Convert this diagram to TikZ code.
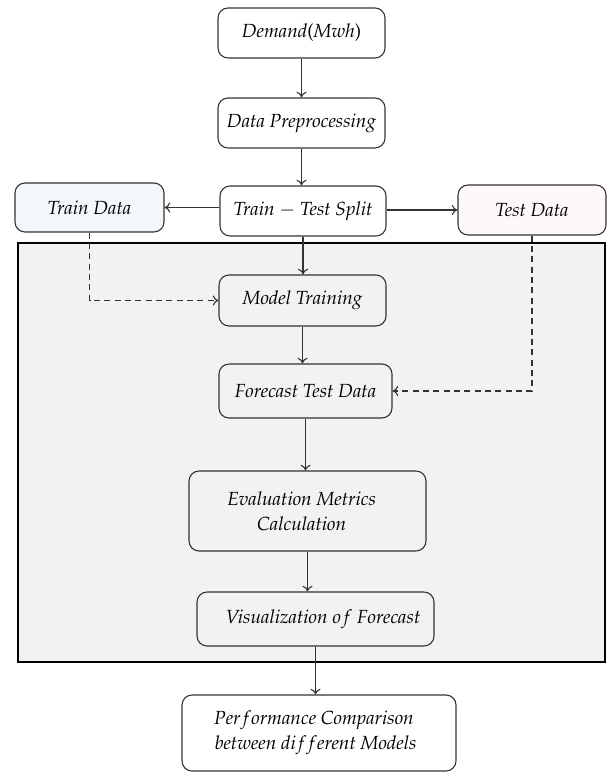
\documentclass[tikz,border=0pt]{standalone}
\usepackage[T1]{fontenc}
\usepackage{mathpazo}
\usetikzlibrary{calc,arrows.meta}
\definecolor{linegray}{HTML}{333333}
\definecolor{panelgray}{HTML}{F2F2F2}
\definecolor{trainfill}{HTML}{F4F8FD}
\definecolor{testfill}{HTML}{FEF8FC}
\tikzset{
  box/.style={draw=linegray, line width=0.65pt, rounded corners=6pt, fill=white,
    align=center, inner sep=0pt, font=\fontsize{11.4}{15}\selectfont\itshape},
  inbox/.style={box, fill=panelgray},
  flow/.style={draw=linegray, line width=0.65pt, -{To[length=3.4pt,width=6pt]}},
  dflow/.style={flow, dash pattern=on 3.6pt off 2.6pt},
}
\begin{document}
\begin{tikzpicture}[x=0.6pt, y=-0.6pt]
\useasboundingbox (0,0) rectangle (607,772);

% shaded panel holding the modelling stages
\draw[line width=0.65pt, draw=black, fill=panelgray] (18,243) rectangle (605,662);

\node[box, minimum width=100.2pt, minimum height=30pt] (dem) at (301.5,33) {Demand\textup{(}Mwh\textup{)}};
\node[box, minimum width=100.2pt, minimum height=30pt] (pre) at (301.5,123) {Data Preprocessing};
\node[box, minimum width=99.6pt, minimum height=30pt] (split) at (303,211) {Train $-$ Test Split};
\node[box, fill=trainfill, minimum width=89.4pt, minimum height=29.4pt] (train) at (89.5,207.5) {Train Data};
\node[box, fill=testfill, minimum width=88.8pt, minimum height=30pt] (test) at (532,210) {Test Data};

\node[inbox, minimum width=100.2pt, minimum height=30.6pt] (mt) at (302.5,300.5) {Model Training};
\node[inbox, minimum width=103.8pt, minimum height=32.4pt] (fc) at (305.5,391) {Forecast Test Data};
\node[inbox, minimum width=142.2pt, minimum height=48pt] (ev) at (307.5,511) {Evaluation Metrics\hspace*{7pt}\\Calculation\hspace*{7pt}};
\node[inbox, minimum width=142.2pt, minimum height=32.4pt] (vis) at (315.5,619) {\hspace*{9pt}Visualization $of$ Forecast};
\node[box, minimum width=164.4pt, minimum height=45.6pt] (perf) at (319,733) {Per$f$ormance Comparison\hspace*{6pt}\\between di$ff$erent Models\hspace*{4pt}};

% main flow
\draw[flow] (dem.south) -- (pre.north);
\draw[flow] (pre.south) -- (pre.south |- split.north);
\draw[flow] (split.west |- train.east) -- (train.east);
\draw[flow] (split.east |- test.west) -- (test.west);
\draw[flow] (split.south) -- (split.south |- mt.north);
\draw[flow] (mt.south) -- (mt.south |- fc.north);
\draw[flow] (fc.south) -- (fc.south |- ev.north);
\draw[flow] (ev.south) -- (ev.south |- vis.north);
\draw[flow] (vis.south) -- (vis.south |- perf.north);

% data feeding the model
\draw[dflow] (train.south) |- (mt.west);
\draw[dflow] (test.south) |- (fc.east);
\end{tikzpicture}
\end{document}
